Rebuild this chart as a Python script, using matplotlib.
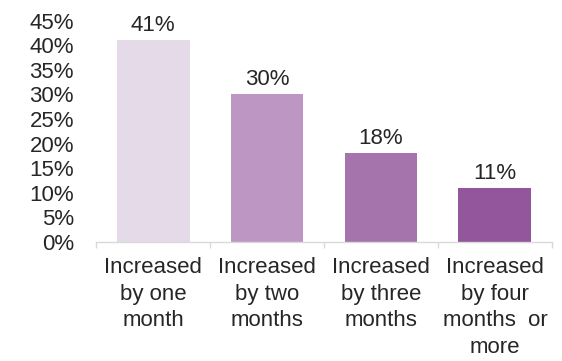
import matplotlib
matplotlib.use("Agg")
import matplotlib.pyplot as plt

categories = [
    "Increased\nby one\nmonth",
    "Increased\nby two\nmonths",
    "Increased\nby three\nmonths",
    "Increased\nby four\nmonths  or\nmore",
]
values = [41, 30, 18, 11]
bar_colors = ["#E5DAE8", "#BE96C4", "#A674AC", "#93559B"]
y_ticks = [0, 5, 10, 15, 20, 25, 30, 35, 40, 45]

plt.rcParams["font.family"] = ["Liberation Sans", "DejaVu Sans"]
text_color = "#262626"

fig = plt.figure(figsize=(5.62, 3.61), dpi=100)
ax = fig.add_axes([0.171, 0.3296, 0.811, 0.6136])

x = list(range(len(categories)))
bars = ax.bar(x, values, width=0.64, color=bar_colors, zorder=2)

for xi, v in zip(x, values):
    ax.annotate(f"{v}%", (xi, v), xytext=(0, 3), textcoords="offset points",
                ha="center", va="bottom", fontsize=16, color=text_color)

ax.set_xlim(-0.5, len(categories) - 0.5)
ax.set_ylim(0, 45)
ax.set_yticks(y_ticks)
ax.set_yticklabels([f"{t}%" for t in y_ticks], fontsize=16, color=text_color)
ax.tick_params(axis="y", length=0, pad=16)

ax.set_xticks(x)
ax.set_xticklabels(categories, fontsize=16, color=text_color, linespacing=1.34)
ax.tick_params(axis="x", which="major", length=0, pad=11)
ax.set_xticks([i - 0.5 for i in range(len(categories) + 1)], minor=True)
ax.tick_params(axis="x", which="minor", length=4, width=1, color="#D9D9D9",
               direction="out")

for side in ["top", "right", "left"]:
    ax.spines[side].set_visible(False)
ax.spines["bottom"].set_color("#D9D9D9")
ax.spines["bottom"].set_linewidth(1)

fig.savefig("out.png", dpi=100)
